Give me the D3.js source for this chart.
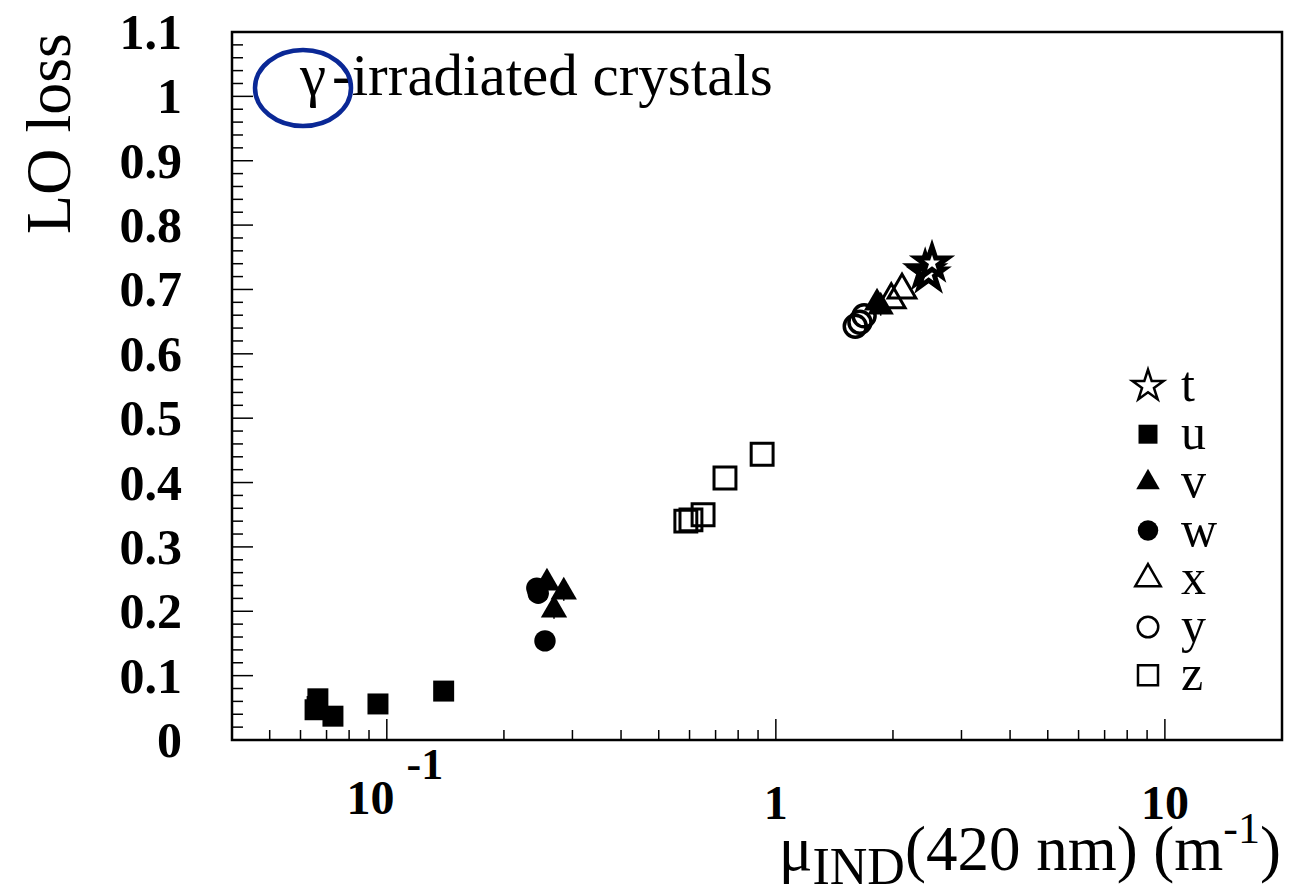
<!DOCTYPE html>
<html>
<head>
<meta charset="utf-8">
<script src="https://cdn.jsdelivr.net/npm/d3@7"></script>
<style>
  body { margin: 0; background: #fff; }
  text { font-family: "Liberation Serif", "Times New Roman", serif; }
</style>
</head>
<body>
<div id="chart"></div>
<script>
// data: [mu_IND (1/m), LO loss]
const seriesT = [[2.42, 0.729], [2.47, 0.724], [2.52, 0.741]];
const seriesU = [[0.0665, 0.064], [0.0654, 0.047], [0.0662, 0.052], [0.0727, 0.037], [0.0949, 0.056], [0.140, 0.076]];
const seriesV = [[0.258, 0.244], [0.285, 0.230], [0.269, 0.202], [1.82, 0.679], [1.86, 0.673]];
const seriesW = [[0.243, 0.236], [0.245, 0.228], [0.255, 0.154]];
const seriesX = [[1.98, 0.684], [2.11, 0.699]];
const seriesY = [[1.60, 0.643], [1.645, 0.649], [1.686, 0.659]];
const seriesZ = [[0.587, 0.340], [0.605, 0.342], [0.650, 0.350], [0.740, 0.407], [0.922, 0.444]];
const yErr = 0.006;

const legendNames = ["t", "u", "v", "w", "x", "y", "z"];
const xMajorTicks = [0.1, 1, 10];
const xTickLabels = [["10", "-1"], ["1", ""], ["10", ""]];
const yTicks = [0, 0.1, 0.2, 0.3, 0.4, 0.5, 0.6, 0.7, 0.8, 0.9, 1, 1.1];

let width = 1307, height = 890;
let padL = 232, padR = 1282, padT = 32, padB = 740;

let svg = d3
  .select("#chart")
  .append("svg")
  .attr("width", width)
  .attr("height", height);

let x = d3.scaleLog().domain([0.04, 20]).range([padL, padR]);
let y = d3.scaleLinear().domain([0, 1.1]).range([padB, padT]);

// minor ticks
let xMinor = [];
[0.01, 0.1, 1, 10].forEach((dec) => {
  for (let k = 1; k < 10; k++) {
    let v = dec * k;
    if (v > 0.04 && v < 20 && !xMajorTicks.includes(v)) xMinor.push(v);
  }
});
let yMinor = d3.range(0, 56).map((i) => i * 0.02).filter((v) => v < 1.1);

let ticks = svg.append("g").attr("stroke", "#000").attr("stroke-width", 1.5);
ticks
  .selectAll(".xminor")
  .data(xMinor)
  .enter()
  .append("line")
  .attr("x1", (d) => x(d))
  .attr("x2", (d) => x(d))
  .attr("y1", padB)
  .attr("y2", padB - 10);
ticks
  .selectAll(".xmajor")
  .data(xMajorTicks)
  .enter()
  .append("line")
  .attr("x1", (d) => x(d))
  .attr("x2", (d) => x(d))
  .attr("y1", padB)
  .attr("y2", padB - 21);
ticks
  .selectAll(".yminor")
  .data(yMinor)
  .enter()
  .append("line")
  .attr("x1", padL)
  .attr("x2", (d) => padL + (Math.abs(d * 10 - Math.round(d * 10)) < 1e-6 ? 21 : 11))
  .attr("y1", (d) => y(d))
  .attr("y2", (d) => y(d));

// frame
svg
  .append("rect")
  .attr("x", padL)
  .attr("y", padT)
  .attr("width", padR - padL)
  .attr("height", padB - padT)
  .attr("fill", "none")
  .attr("stroke", "#000")
  .attr("stroke-width", 2.5);

// y tick labels
svg
  .selectAll(".ylab")
  .data(yTicks)
  .enter()
  .append("text")
  .attr("x", 182)
  .attr("y", (d) => y(d) + 17)
  .attr("text-anchor", "end")
  .attr("font-size", 50)
  .attr("font-weight", "bold")
  .text((d) => d3.format(".1~f")(d));

// x tick labels
let xl = svg
  .selectAll(".xlab")
  .data(xMajorTicks)
  .enter()
  .append("text")
  .attr("font-size", 48)
  .attr("font-weight", "bold")
  .attr("text-anchor", "middle")
  .attr("x", (d) => x(d) + (xTickLabels[xMajorTicks.indexOf(d)][1] ? 8 : 0))
  .attr("y", (d) => (xTickLabels[xMajorTicks.indexOf(d)][1] ? 814 : 819));
xl.append("tspan").text((d) => xTickLabels[xMajorTicks.indexOf(d)][0]);
xl.append("tspan")
  .attr("dx", 12)
  .attr("dy", -35)
  .attr("font-size", 44)
  .text((d) => xTickLabels[xMajorTicks.indexOf(d)][1]);

// axis titles
svg
  .append("text")
  .attr("transform", "translate(70," + 33 + ") rotate(-90)")
  .attr("text-anchor", "end")
  .attr("font-size", 64)
  .text("LO loss");

let xt = svg
  .append("text")
  .attr("x", 1281)
  .attr("y", 870)
  .attr("text-anchor", "end")
  .attr("font-size", 63);
xt.append("tspan").text("μ");
xt.append("tspan").attr("font-size", 52).attr("dy", 14).text("IND");
xt.append("tspan").attr("dy", -14).text("(420 nm) (m");
xt.append("tspan").attr("font-size", 44).attr("dy", -27).text("-1");
xt.append("tspan").attr("dy", 27).text(")");

// label inside the frame
let lab = svg
  .append("text")
  .attr("x", 300)
  .attr("y", 95)
  .attr("font-size", 59);
lab.append("tspan").text("γ");
lab.append("tspan").attr("dx", 6).text("-irradiated crystals");

svg
  .append("ellipse")
  .attr("cx", 303)
  .attr("cy", 88)
  .attr("rx", 48)
  .attr("ry", 38)
  .attr("fill", "none")
  .attr("stroke", "#0a2896")
  .attr("stroke-width", 4.5);

// markers
let styles = [
  { data: seriesT, type: d3.symbolStar, size: 300, leg: 300, fill: "#fff", sw: 5 },
  { data: seriesU, type: d3.symbolSquare, size: 440, leg: 360, fill: "#000", sw: 0 },
  { data: seriesV, type: d3.symbolTriangle, size: 300, leg: 240, fill: "#000", sw: 0 },
  { data: seriesW, type: d3.symbolCircle, size: 360, leg: 330, fill: "#000", sw: 0 },
  { data: seriesX, type: d3.symbolTriangle, size: 330, leg: 280, fill: "none", sw: 3 },
  { data: seriesY, type: d3.symbolCircle, size: 380, leg: 330, fill: "none", sw: 3.5 },
  { data: seriesZ, type: d3.symbolSquare, size: 480, leg: 400, fill: "none", sw: 3 },
];

let plot = svg.append("g");
styles.forEach((s) => {
  if (s.fill === "#000") {
    plot
      .selectAll(null)
      .data(s.data)
      .enter()
      .append("line")
      .attr("x1", (d) => x(d[0]))
      .attr("x2", (d) => x(d[0]))
      .attr("y1", (d) => y(d[1] - yErr) + 5)
      .attr("y2", (d) => y(d[1] + yErr) - 5)
      .attr("stroke", "#000")
      .attr("stroke-width", 1.5);
  }
  plot
    .selectAll(null)
    .data(s.data)
    .enter()
    .append("path")
    .attr("transform", (d) => "translate(" + x(d[0]) + "," + y(d[1]) + ")")
    .attr("d", d3.symbol().type(s.type).size(s.size))
    .attr("fill", s.fill)
    .attr("stroke", "#000")
    .attr("stroke-linejoin", "miter")
    .attr("stroke-width", s.sw);
});

// legend
let leg = svg.append("g");
legendNames.forEach((name, i) => {
  let cy = 386 + i * 48.2;
  let s = styles[i];
  leg
    .append("path")
    .attr("transform", "translate(1148," + cy + ")")
    .attr("d", d3.symbol().type(s.type).size(s.leg))
    .attr("fill", s.fill)
    .attr("stroke", "#000")
    .attr("stroke-width", s.sw ? 2.5 : 0);
  leg
    .append("text")
    .attr("x", 1181)
    .attr("y", cy + 15)
    .attr("font-size", 50)
    .text(name);
});
</script>
</body>
</html>
